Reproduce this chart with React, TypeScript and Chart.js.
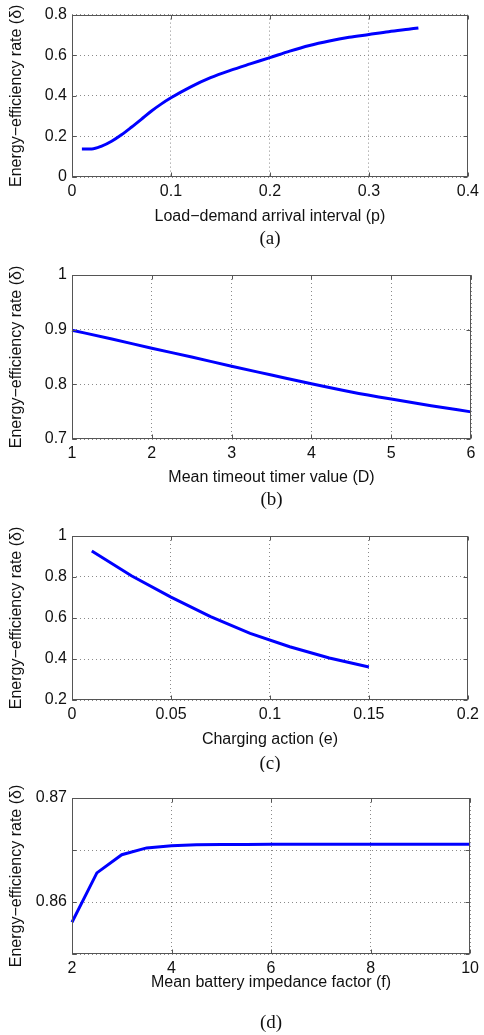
import React, { useEffect, useRef } from "react";
import { Chart, registerables } from "chart.js";

Chart.register(...registerables);

// ---- Data ----
const A_X = [0.01, 0.02, 0.03, 0.04, 0.05, 0.06, 0.07, 0.08, 0.09, 0.1, 0.12, 0.14, 0.16, 0.18, 0.2, 0.22, 0.24, 0.26, 0.28, 0.3, 0.32, 0.34, 0.35];
const A_Y = [0.138, 0.138, 0.152, 0.176, 0.208, 0.245, 0.284, 0.324, 0.359, 0.39, 0.444, 0.489, 0.525, 0.557, 0.588, 0.62, 0.648, 0.67, 0.688, 0.702, 0.716, 0.728, 0.734];

const B_X = [1, 1.5, 2, 2.5, 3, 3.5, 4, 4.5, 5, 5.5, 6];
const B_Y = [0.899, 0.883, 0.866, 0.85, 0.833, 0.817, 0.801, 0.786, 0.773, 0.761, 0.7496];

const C_X = [0.01, 0.03, 0.05, 0.07, 0.09, 0.11, 0.13, 0.15];
const C_Y = [0.927, 0.806, 0.702, 0.607, 0.525, 0.46, 0.405, 0.361];

const D_X = [2, 2.5, 3, 3.5, 4, 4.5, 5, 5.5, 6, 6.5, 7, 7.5, 8, 8.5, 9, 9.5, 10];
const D_Y = [0.85805, 0.8628, 0.86455, 0.8652, 0.8654, 0.8655, 0.86553, 0.86554, 0.86555, 0.86555, 0.86555, 0.86555, 0.86555, 0.86555, 0.86555, 0.86555, 0.86555];

const Y_TITLE = "Energy−efficiency rate (δ)";
const X_TITLES = [
  "Load−demand arrival interval (p)",
  "Mean timeout timer value (D)",
  "Charging action (e)",
  "Mean battery impedance factor (f)",
];
const CAPTIONS = ["(a)", "(b)", "(c)", "(d)"];

// axis ranges: [min, max, step]
const X_RANGES = [
  [0, 0.4, 0.1],
  [1, 6, 1],
  [0, 0.2, 0.05],
  [2, 10, 2],
];
const Y_RANGES = [
  [0, 0.8, 0.2],
  [0.7, 1, 0.1],
  [0.2, 1, 0.2],
  [0.855, 0.87, 0.005],
];
const D_Y_LABELS = [0.86, 0.87];

// ---- Layout (page pixel positions) ----
const PANELS = [
  { top: 0, h: 255, plotTop: 13, plotBottom: 177, titleY: 217, captionY: 239 },
  { top: 255, h: 262, plotTop: 275, plotBottom: 439, titleY: 478, captionY: 500 },
  { top: 517, h: 255, plotTop: 536, plotBottom: 700, titleY: 740, captionY: 764 },
  { top: 772, h: 263, plotTop: 798, plotBottom: 954, titleY: 983, captionY: 1023 },
];

const SANS = "'Liberation Sans', Arial, Helvetica, sans-serif";
const SERIF = "'Liberation Serif', 'Times New Roman', serif";
const FONT_SIZE = 16;
const LH = FONT_SIZE * 1.2;

const fmt = (v: number) => String(Number(Number(v).toFixed(4)));

const boxPlugin = {
  id: "matlabBox",
  afterDraw(chart: any, _args: any, opts: any) {
    const { ctx, chartArea, scales } = chart;
    const l = Math.round(chartArea.left) + 0.5;
    const r = Math.round(chartArea.right) - 0.5;
    const t = Math.round(chartArea.top) + 0.5;
    const b = Math.round(chartArea.bottom) - 0.5;
    ctx.save();
    ctx.strokeStyle = "#555";
    ctx.lineWidth = 1;
    ctx.setLineDash([]);
    ctx.strokeRect(l, t, r - l, b - t);
    const tl = 4;
    ctx.beginPath();
    for (const tk of scales.x.ticks) {
      const px = Math.round(scales.x.getPixelForValue(tk.value)) + 0.5;
      ctx.moveTo(px, b);
      ctx.lineTo(px, b - tl);
      ctx.moveTo(px, t);
      ctx.lineTo(px, t + tl);
    }
    for (const tk of scales.y.ticks) {
      const py = Math.round(scales.y.getPixelForValue(tk.value)) + 0.5;
      ctx.moveTo(l, py);
      ctx.lineTo(l + tl, py);
      ctx.moveTo(r, py);
      ctx.lineTo(r - tl, py);
    }
    ctx.stroke();
    // caption
    ctx.fillStyle = "#111";
    ctx.font = `19px ${SERIF}`;
    ctx.textAlign = "center";
    ctx.textBaseline = "middle";
    ctx.fillText(opts.caption, (chartArea.left + chartArea.right) / 2, opts.captionY);
    ctx.restore();
  },
};

function Panel({ idx, xs, ys, smooth }: { idx: number; xs: number[]; ys: number[]; smooth: boolean }) {
  const ref = useRef<HTMLCanvasElement | null>(null);
  const p = PANELS[idx];
  useEffect(() => {
    if (!ref.current) return;
    const xH = p.top + p.h - p.plotBottom;
    const titlePadBottom = p.top + p.h - p.titleY - LH / 2;
    const [xmin, xmax, xstep] = X_RANGES[idx];
    const [ymin, ymax, ystep] = Y_RANGES[idx];
    const chart = new Chart(ref.current, {
      type: "line",
      data: {
        datasets: [
          {
            data: xs.map((x, i) => ({ x, y: ys[i] })),
            borderColor: "#0000ff",
            borderWidth: 3,
            pointRadius: 0,
            fill: false,
            clip: false as any,
            cubicInterpolationMode: smooth ? "monotone" : "default",
            tension: 0,
          },
        ],
      },
      options: {
        responsive: false,
        animation: false,
        devicePixelRatio: 1,
        layout: { padding: { top: p.plotTop - p.top, right: 13, left: 0, bottom: 0 } },
        plugins: {
          legend: { display: false },
          tooltip: { enabled: false },
          matlabBox: { caption: CAPTIONS[idx], captionY: p.captionY - p.top },
        } as any,
        scales: {
          x: {
            type: "linear",
            min: xmin,
            max: xmax,
            afterFit: (s: any) => {
              s.height = xH;
            },
            ticks: {
              stepSize: xstep,
              padding: 5,
              maxRotation: 0,
              autoSkip: false,
              color: "#111",
              font: { family: SANS, size: FONT_SIZE },
              callback: (v: any) => fmt(v),
            },
            grid: { color: "#8a8a8a", lineWidth: 1, drawTicks: false },
            border: { display: false, dash: [1, 3] },
            title: {
              display: true,
              text: X_TITLES[idx],
              color: "#111",
              font: { family: SANS, size: FONT_SIZE },
              padding: { top: 0, bottom: titlePadBottom },
            },
          },
          y: {
            type: "linear",
            min: ymin,
            max: ymax,
            afterFit: (s: any) => {
              s.width = 72;
            },
            ticks: {
              stepSize: ystep,
              padding: 5,
              autoSkip: false,
              color: "#111",
              font: { family: SANS, size: FONT_SIZE },
              callback: (v: any) => {
                if (idx === 3) {
                  return D_Y_LABELS.some((d) => Math.abs(d - v) < 1e-6) ? fmt(v) : "";
                }
                return fmt(v);
              },
            },
            grid: { color: "#8a8a8a", lineWidth: 1, drawTicks: false },
            border: { display: false, dash: [1, 3] },
            title: {
              display: true,
              text: Y_TITLE,
              color: "#111",
              font: { family: SANS, size: FONT_SIZE },
              padding: { top: 7, bottom: 0 },
            },
          },
        },
      } as any,
      plugins: [boxPlugin],
    });
    return () => chart.destroy();
  }, []);
  return (
    <canvas
      ref={ref}
      width={484}
      height={p.h}
      style={{ position: "absolute", left: 0, top: p.top, width: 484, height: p.h, display: "block" }}
    />
  );
}

export default function App() {
  return (
    <div style={{ position: "absolute", left: 0, top: 0, width: 484, height: 1035, background: "#fff" }}>
      <Panel idx={0} xs={A_X} ys={A_Y} smooth={true} />
      <Panel idx={1} xs={B_X} ys={B_Y} smooth={true} />
      <Panel idx={2} xs={C_X} ys={C_Y} smooth={false} />
      <Panel idx={3} xs={D_X} ys={D_Y} smooth={false} />
    </div>
  );
}
